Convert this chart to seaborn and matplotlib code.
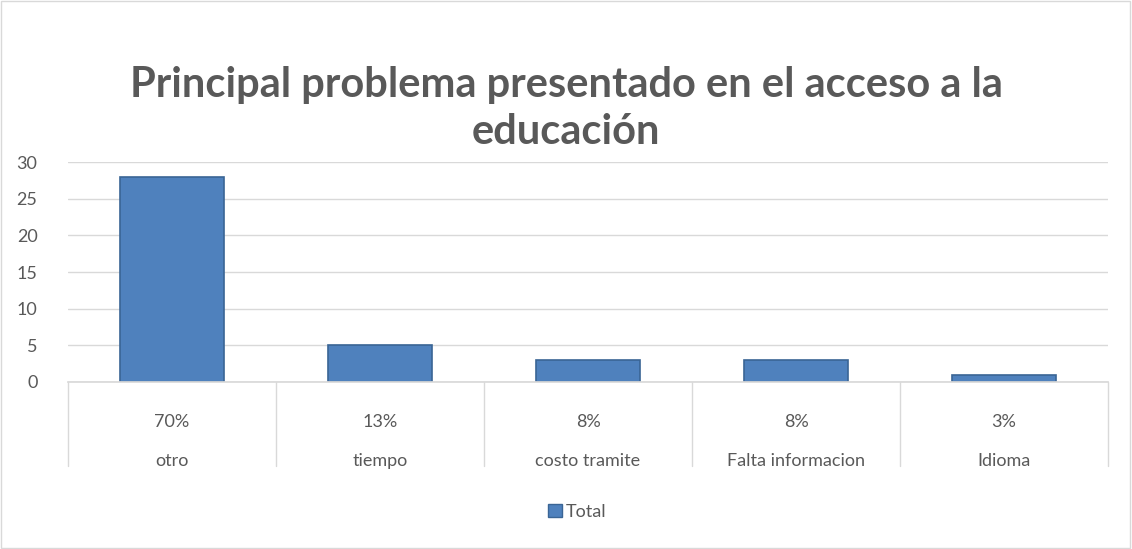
import matplotlib.pyplot as plt
import matplotlib.patches as mpatches
import seaborn as sns
import pandas as pd

categorias = ["otro", "tiempo", "costo tramite", "Falta informacion", "Idioma"]
totales = [28, 5, 3, 3, 1]
porcentajes = ["70%", "13%", "8%", "8%", "3%"]
yticks = [0, 5, 10, 15, 20, 25, 30]

df = pd.DataFrame({"categoria": categorias, "Total": totales})

sns.set_theme(style="white")
plt.rcParams['font.family'] = ['Lato', 'DejaVu Sans']
gris = "#595959"
linea = "#D9D9D9"

fig = plt.figure(figsize=(11.32, 5.49), dpi=100)
ax = fig.add_axes([0.0601, 0.3042, 0.9187, 0.4007])

sns.barplot(data=df, x="categoria", y="Total", color="#4F81BD", width=0.5,
            edgecolor="#3A6595", linewidth=1.2, saturation=1, ax=ax)

ax.set_ylim(0, 30)
ax.set_xlim(-0.5, len(categorias) - 0.5)
ax.set_yticks(yticks)
ax.set_yticklabels([str(t) for t in yticks], color=gris, fontsize=13)
ax.tick_params(axis="y", length=0, pad=22)
ax.set_xticks([])
ax.set_xlabel("")
ax.set_ylabel("")
ax.yaxis.grid(True, color=linea, linewidth=1)
ax.set_axisbelow(True)
for s in ["top", "right", "left"]:
    ax.spines[s].set_visible(False)
ax.spines["bottom"].set_color(linea)

# tabla de categorias bajo el eje
trans = ax.get_xaxis_transform()
for i in range(len(categorias) + 1):
    ax.plot([i - 0.5, i - 0.5], [0, -0.38], transform=trans, color=linea,
            linewidth=1, clip_on=False)
for i, (c, p) in enumerate(zip(categorias, porcentajes)):
    ax.text(i, -0.18, p, transform=trans, ha="center", va="center",
            fontsize=13, color=gris)
    ax.text(i, -0.36, c, transform=trans, ha="center", va="center",
            fontsize=13, color=gris)

fig.text(0.5, 0.802, "Principal problema presentado en el acceso a la\neducación",
         ha="center", va="center", fontsize=30, fontweight="bold", color=gris,
         linespacing=1.3)

handle = mpatches.Patch(facecolor="#4F81BD", edgecolor="#3A6595", label="Total")
fig.legend(handles=[handle], loc="center", bbox_to_anchor=(0.51, 0.068),
           frameon=False, fontsize=13, labelcolor=gris, handlelength=0.8,
           handleheight=0.8, handletextpad=0.2)

fig.patches.append(mpatches.Rectangle((0.001, 0.002), 0.997, 0.996,
                                      transform=fig.transFigure, fill=False,
                                      edgecolor=linea, linewidth=1))

fig.savefig("out.png", dpi=100)
